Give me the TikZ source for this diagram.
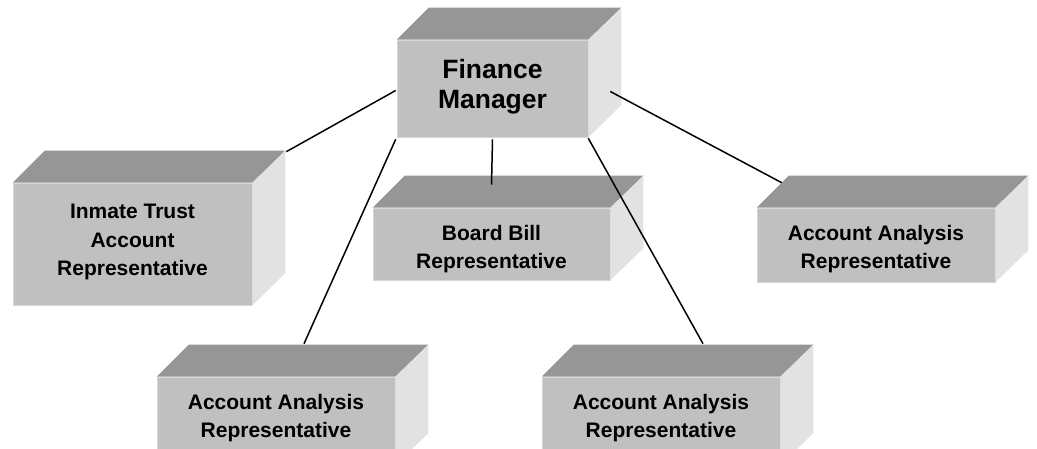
\documentclass[tikz,border=0pt]{standalone}
\usepackage{fontspec}
\setmainfont{Liberation Sans}
\usetikzlibrary{calc}

\definecolor{faceFront}{HTML}{C0C0C0}
\definecolor{faceTop}{HTML}{969696}
\definecolor{faceSide}{HTML}{E2E2E2}
\definecolor{edgeLight}{HTML}{D6D6D6}

% top and right faces of a block, built on the front-face node #1
\newcommand\blockfaces[1]{%
  \fill[faceTop] (#1.north west) -- ++(32,-32) -- ($(#1.north east)+(33,-32)$) -- (#1.north east) -- cycle;
  \fill[faceSide] (#1.north east) -- ++(33,-32) -- ($(#1.south east)+(33,-32)$) -- (#1.south east) -- cycle;
}
% raise one text line without changing its size
\newcommand\lift[2]{\raisebox{#1}[\height][\depth]{#2}}

\begin{document}
\begin{tikzpicture}[x=1pt,y=-1pt,
  front/.style={rectangle, fill=faceFront, draw=edgeLight, line width=0.6pt,
    inner sep=0pt, align=center, text=black,
    font=\bfseries\fontsize{21}{28.5}\selectfont},
  bigfront/.style={front, font=\bfseries\fontsize{26.5}{30}\selectfont},
  conn/.style={line width=1.5pt, black}]

\path[use as bounding box] (0,0) rectangle (1037,448);
\clip (0,0) rectangle (1037,448);

% front faces
\node[bigfront, minimum width=191, minimum height=97] (fm) at (492.5,88.5)
  {\lift{2pt}{Finance}\\\lift{2pt}{Manager}};
\node[front, minimum width=239, minimum height=122] (it) at (132.5,244)
  {\lift{2pt}{Inmate Trust}\\\lift{2pt}{Account}\\\lift{2pt}{Representative}};
\node[front, minimum width=237, minimum height=72] (bb) at (491.5,244)
  {\lift{-5pt}{Board Bill}\\\lift{-5pt}{Representative}};
\node[front, minimum width=238, minimum height=74] (ra) at (876,245)
  {\lift{-4pt}{Account Analysis}\\\lift{-4pt}{Representative}};
\node[front, minimum width=238, minimum height=88] (bl) at (276,421)
  {\lift{3pt}{Account Analysis}\\\lift{3pt}{Representative}};
\node[front, minimum width=238, minimum height=88] (br) at (661,421)
  {\lift{3pt}{Account Analysis}\\\lift{3pt}{Representative}};

\blockfaces{fm}
\blockfaces{it}
\blockfaces{bb}
\blockfaces{ra}
\blockfaces{bl}
\blockfaces{br}

% reporting lines
\coordinate (it-end) at ($(it.north east)+(34,-31)$);
\coordinate (bb-end) at ($(bb.north)+(0,-23)$);
\coordinate (ra-end) at ($(ra.north west)+(25,-25)$);
\coordinate (bl-end) at ($(bl.north)+(28,-33)$);
\coordinate (br-end) at ($(br.north)+(42,-33)$);
\coordinate (fm-side) at ($(fm.east)+(22,3)$);

\draw[conn] ($(fm.west)+(-1,2)$) -- (it-end);
\draw[conn] ($(fm.south west)+(-1,2)$) -- (bl-end);
\draw[conn] ($(fm.south)+(0,2)$) -- (bb-end);
\draw[conn] ($(fm.south east)+(0,1)$) -- (br-end);
\draw[conn] (fm-side) -- (ra-end);
\end{tikzpicture}
\end{document}
